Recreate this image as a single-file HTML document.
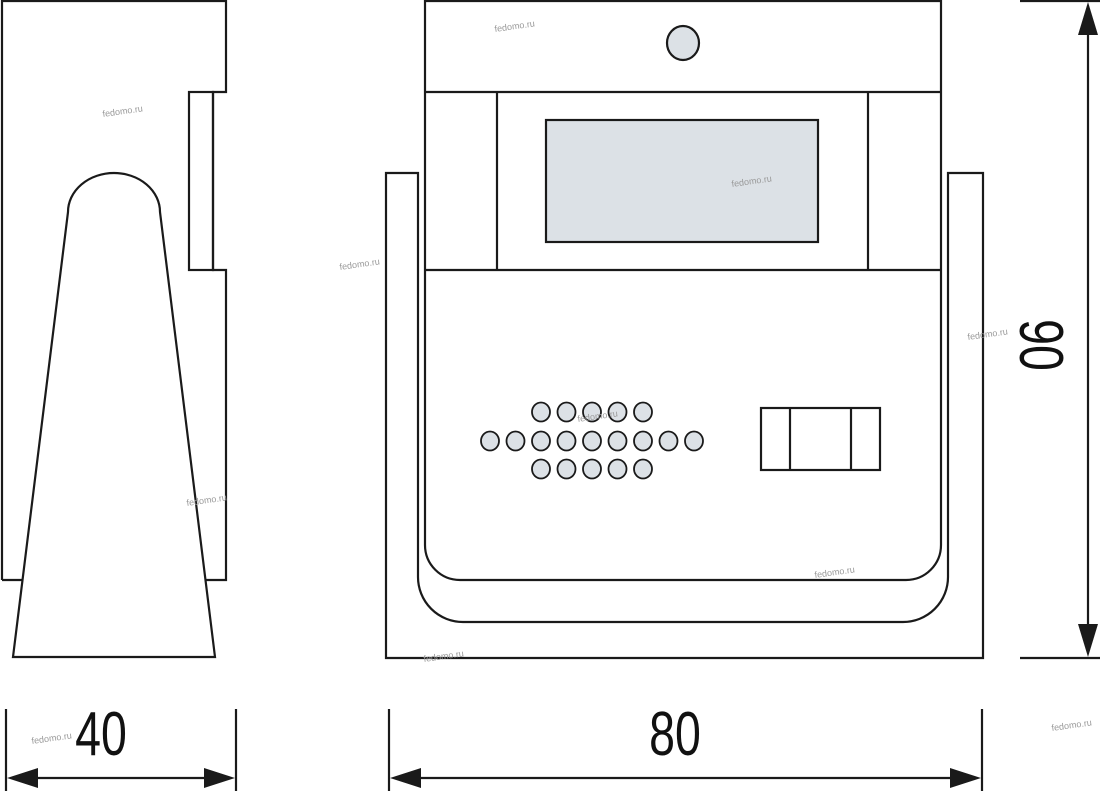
<!DOCTYPE html>
<html><head><meta charset="utf-8"><style>
html,body{margin:0;padding:0;background:#fff;}
svg{display:block;}
.w{font-family:"Liberation Sans",sans-serif;font-size:9px;fill:#999;}
.n{font-family:"Liberation Sans",sans-serif;font-size:62px;fill:#111;}
</style></head><body>
<svg width="1100" height="791" viewBox="0 0 1100 791" xmlns="http://www.w3.org/2000/svg">
<g fill="none" stroke="#1a1a1a" stroke-width="2.2">
<!-- side view -->
<path d="M2,580 L2,1 L226,1 L226,92 L213,92 L213,270 L226,270 L226,580 L206,580"/>
<path d="M2,580 L22,580"/>
<rect x="189" y="92" width="24" height="178"/>
<path d="M13,657 L68,212 A46,39 0 0 1 160,212 L215,657 Z" fill="#fff"/>
<!-- front stand -->
<path d="M386,173 L418,173 L418,577 A45,45 0 0 0 463,622 L903,622 A45,45 0 0 0 948,577 L948,173 L983,173 L983,658 L386,658 Z"/>
<!-- device -->
<path d="M425,1 L941,1 L941,545 A35,35 0 0 1 906,580 L460,580 A35,35 0 0 1 425,545 Z" fill="#fff"/>
<line x1="425" y1="92" x2="941" y2="92"/>
<line x1="425" y1="270" x2="941" y2="270"/>
<line x1="497" y1="92" x2="497" y2="270"/>
<line x1="868" y1="92" x2="868" y2="270"/>
<rect x="546" y="120" width="272" height="122" fill="#dce1e6"/>
<ellipse cx="683" cy="43" rx="16" ry="17" fill="#dce1e6"/>
<g fill="#dce1e6" stroke-width="1.8">
<ellipse cx="541" cy="412" rx="9" ry="9.5"/><ellipse cx="566.5" cy="412" rx="9" ry="9.5"/><ellipse cx="592" cy="412" rx="9" ry="9.5"/><ellipse cx="617.5" cy="412" rx="9" ry="9.5"/><ellipse cx="643" cy="412" rx="9" ry="9.5"/>
<ellipse cx="490" cy="441" rx="9" ry="9.5"/><ellipse cx="515.5" cy="441" rx="9" ry="9.5"/><ellipse cx="541" cy="441" rx="9" ry="9.5"/><ellipse cx="566.5" cy="441" rx="9" ry="9.5"/><ellipse cx="592" cy="441" rx="9" ry="9.5"/><ellipse cx="617.5" cy="441" rx="9" ry="9.5"/><ellipse cx="643" cy="441" rx="9" ry="9.5"/><ellipse cx="668.5" cy="441" rx="9" ry="9.5"/><ellipse cx="694" cy="441" rx="9" ry="9.5"/>
<ellipse cx="541" cy="469" rx="9" ry="9.5"/><ellipse cx="566.5" cy="469" rx="9" ry="9.5"/><ellipse cx="592" cy="469" rx="9" ry="9.5"/><ellipse cx="617.5" cy="469" rx="9" ry="9.5"/><ellipse cx="643" cy="469" rx="9" ry="9.5"/>
</g>
<rect x="761" y="408" width="119" height="62"/>
<line x1="790" y1="408" x2="790" y2="470"/>
<line x1="851" y1="408" x2="851" y2="470"/>
<!-- dimensions -->
<line x1="1020" y1="1" x2="1100" y2="1"/>
<line x1="1020" y1="658" x2="1100" y2="658"/>
<line x1="1088" y1="10" x2="1088" y2="650"/>
<line x1="6" y1="709" x2="6" y2="791"/>
<line x1="236" y1="709" x2="236" y2="791"/>
<line x1="12" y1="778" x2="230" y2="778"/>
<line x1="389" y1="709" x2="389" y2="791"/>
<line x1="982" y1="709" x2="982" y2="791"/>
<line x1="395" y1="778" x2="976" y2="778"/>
</g>
<g fill="#1a1a1a">
<polygon points="1088,2 1078,35 1098,35"/>
<polygon points="1088,657 1078,624 1098,624"/>
<polygon points="7,778 38,768 38,788"/>
<polygon points="235,778 204,768 204,788"/>
<polygon points="390,778 421,768 421,788"/>
<polygon points="981,778 950,768 950,788"/>
</g>
<text class="n" transform="translate(101,755) scale(0.75,1)" text-anchor="middle">40</text>
<text class="n" transform="translate(675,755) scale(0.75,1)" text-anchor="middle">80</text>
<text class="n" transform="translate(1020,345) rotate(90) scale(0.75,1)" text-anchor="middle">90</text>
<g class="w">
<text transform="translate(103,117) rotate(-8)">fedomo.ru</text>
<text transform="translate(495,32) rotate(-8)">fedomo.ru</text>
<text transform="translate(732,187) rotate(-8)">fedomo.ru</text>
<text transform="translate(340,270) rotate(-8)">fedomo.ru</text>
<text transform="translate(968,340) rotate(-8)">fedomo.ru</text>
<text transform="translate(187,506) rotate(-8)">fedomo.ru</text>
<text transform="translate(815,578) rotate(-8)">fedomo.ru</text>
<text transform="translate(424,662) rotate(-8)">fedomo.ru</text>
<text transform="translate(32,744) rotate(-8)">fedomo.ru</text>
<text transform="translate(1052,731) rotate(-8)">fedomo.ru</text>
<text transform="translate(578,422) rotate(-8)">fedomo.ru</text>
</g>
</svg>
</body></html>
